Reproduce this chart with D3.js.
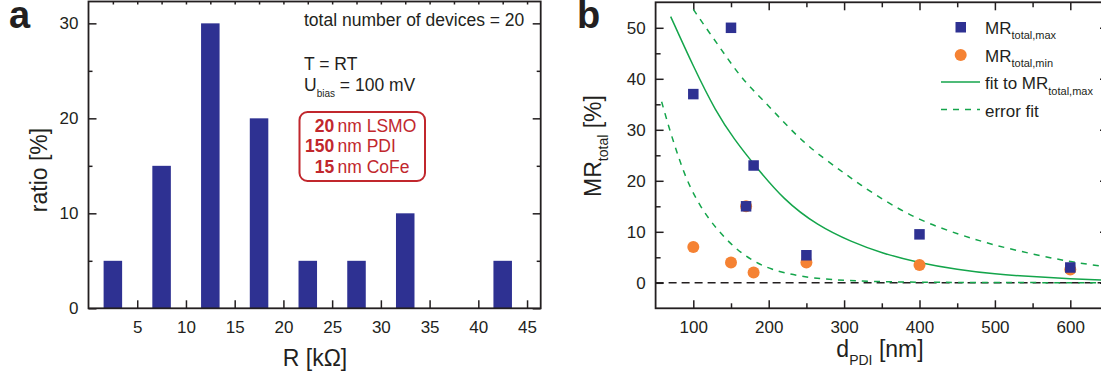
<!DOCTYPE html>
<html>
<head>
<meta charset="utf-8">
<script src="https://cdnjs.cloudflare.com/ajax/libs/d3/7.8.5/d3.min.js"></script>
<style>
  body { margin: 0; background: #fff; }
  text { font-family: "Liberation Sans", Arial, sans-serif; fill: #231f20; }
</style>
</head>
<body>
<script>
// panel a: histogram of device resistance
var barR = [2.5, 7.5, 12.5, 17.5, 22.5, 27.5, 32.5, 42.5];
var barRatio = [5, 15, 30, 20, 5, 5, 10, 5];
var xTicksA = [5, 10, 15, 20, 25, 30, 35, 40, 45];
var yTicksA = [0, 10, 20, 30];

// panel b: MR vs PDI thickness
var dPDI = [100, 150, 170, 180, 250, 400, 600];
var mrMax = [37, 50, 15, 23, 5.4, 9.5, 3.0];
var mrMin = [7, 4, 15, 2, 4, 3.5, 2.6];

// curves
var fitX = [70, 100, 130, 155, 180, 220, 265, 310, 350, 400, 450, 500, 550, 600, 650];
var fitY = [52.2, 42.4, 33.5, 28.0, 23.3, 16.2, 11.2, 8.0, 5.8, 3.9, 2.6, 1.7, 1.2, 0.8, 0.5];
var errHiX = [100, 122, 144, 166, 193, 219, 246, 273, 300, 322, 350, 400, 454, 498, 551, 600, 650];
var errHiY = [53.6, 48.9, 44.3, 39.7, 35.8, 31.6, 27.6, 24.4, 21.5, 19.2, 16.4, 12.2, 9.4, 7.4, 5.6, 4.1, 3.1];
var errLoX = [58, 69, 80, 91, 109, 131, 153, 175, 202, 242, 286, 334, 400, 500, 650];
var errLoY = [35.5, 29.8, 24.8, 20.2, 14.9, 10.5, 7.1, 4.6, 2.6, 1.2, 0.55, 0.25, 0.1, 0.04, 0.02];
var xTicksB = [100, 200, 300, 400, 500, 600];
var yTicksB = [0, 10, 20, 30, 40, 50];

var blue = "#2e3192",
	orange = "#f58233",
	green = "#14a54b",
	red = "#c1272d";

var svg = d3.select("body").append("svg")
	.attr("width", 1101)
	.attr("height", 377);

// ---------- panel a ----------
var xA = d3.scaleLinear().domain([0, 46.4]).range([88.5, 540.7]);
var yA = d3.scaleLinear().domain([0, 32.3]).range([308.3, 1.5]);

var gA = svg.append("g");

gA.selectAll(".bar")
	.data(barR)
	.enter()
	.append("rect")
		.attr("class", "bar")
		.attr("x", function(d){ return xA(d - 0.95); })
		.attr("width", function(d){ return xA(d + 0.95) - xA(d - 0.95); })
		.attr("y", function(d, i){ return yA(barRatio[i]); })
		.attr("height", function(d, i){ return yA(0) - yA(barRatio[i]); })
		.attr("fill", blue);

function styleAxis(g, size){
	g.select(".domain").remove();
	g.selectAll("line").attr("stroke", "#231f20").attr("stroke-width", 1.5);
	g.selectAll("text").style("font-size", size + "px").attr("fill", "#231f20");
}

gA.append("g")
	.attr("transform", "translate(0," + yA.range()[0] + ")")
	.call(d3.axisBottom(xA).tickValues(xTicksA).tickSize(-8).tickPadding(13).tickFormat(d3.format("d")))
	.call(styleAxis, 17);

gA.append("g")
	.attr("transform", "translate(0," + yA.range()[1] + ")")
	.call(d3.axisTop(xA).tickValues(d3.range(2.5, 46, 2.5)).tickSize(-3).tickFormat(""))
	.call(styleAxis, 17);

gA.append("g")
	.attr("transform", "translate(" + xA.range()[0] + ",0)")
	.call(d3.axisLeft(yA).tickValues(yTicksA).tickSize(-8).tickPadding(10))
	.call(styleAxis, 17);

gA.append("g")
	.attr("transform", "translate(" + xA.range()[0] + ",0)")
	.call(d3.axisLeft(yA).tickValues([5, 15, 25]).tickSize(-4).tickFormat(""))
	.call(styleAxis, 17);

gA.append("g")
	.attr("transform", "translate(" + xA.range()[1] + ",0)")
	.call(d3.axisRight(yA).tickValues(yTicksA).tickSize(-8).tickFormat(""))
	.call(styleAxis, 17);

gA.append("g")
	.attr("transform", "translate(" + xA.range()[1] + ",0)")
	.call(d3.axisRight(yA).tickValues([5, 15, 25]).tickSize(-4).tickFormat(""))
	.call(styleAxis, 17);

gA.append("rect")
	.attr("x", xA.range()[0])
	.attr("y", yA.range()[1])
	.attr("width", xA.range()[1] - xA.range()[0])
	.attr("height", yA.range()[0] - yA.range()[1])
	.attr("fill", "none")
	.attr("stroke", "#231f20")
	.attr("stroke-width", 1.8);

gA.append("text")
	.attr("x", 315)
	.attr("y", 366)
	.attr("text-anchor", "middle")
	.style("font-size", "23px")
	.text("R [kΩ]");

gA.append("text")
	.attr("transform", "translate(47,170) rotate(-90)")
	.attr("text-anchor", "middle")
	.style("font-size", "23px")
	.text("ratio [%]");

gA.append("text")
	.attr("x", 9)
	.attr("y", 28)
	.style("font-size", "38px")
	.style("font-weight", "bold")
	.text("a");

gA.append("text")
	.attr("x", 304)
	.attr("y", 26)
	.style("font-size", "17.5px")
	.text("total number of devices = 20");

gA.append("text")
	.attr("x", 304)
	.attr("y", 70)
	.style("font-size", "17.5px")
	.text("T = RT");

var ub = gA.append("text")
	.attr("x", 304)
	.attr("y", 90.5)
	.style("font-size", "17.5px");
ub.append("tspan").text("U");
ub.append("tspan").attr("dy", 6).style("font-size", "10px").text("bias");
ub.append("tspan").attr("dy", -6).text(" = 100 mV");

gA.append("rect")
	.attr("x", 299.5)
	.attr("y", 112)
	.attr("width", 125.5)
	.attr("height", 69)
	.attr("rx", 8)
	.attr("fill", "none")
	.attr("stroke", red)
	.attr("stroke-width", 2);

var layers = [["20", "nm LSMO", 131.7], ["150", "nm PDI", 152], ["15", "nm CoFe", 173.3]];
layers.forEach(function(l){
	gA.append("text")
		.attr("x", 334.3)
		.attr("y", l[2])
		.attr("text-anchor", "end")
		.style("font-size", "17.5px")
		.style("font-weight", "bold")
		.style("fill", red)
		.text(l[0]);
	gA.append("text")
		.attr("x", 337.5)
		.attr("y", l[2])
		.style("font-size", "17.5px")
		.style("fill", red)
		.text(l[1]);
});

// ---------- panel b ----------
var xB = d3.scaleLinear().domain([50, 650]).range([655.6, 1108]);
var yB = d3.scaleLinear().domain([-5, 55]).range([308.3, 2.3]);

var gB = svg.append("g");

gB.append("defs").append("clipPath")
	.attr("id", "clipB")
	.append("rect")
		.attr("x", xB.range()[0])
		.attr("y", yB.range()[1])
		.attr("width", xB.range()[1] - xB.range()[0])
		.attr("height", yB.range()[0] - yB.range()[1]);

gB.append("g")
	.attr("transform", "translate(0," + yB.range()[0] + ")")
	.call(d3.axisBottom(xB).tickValues(xTicksB).tickSize(-8).tickPadding(13))
	.call(styleAxis, 17);

gB.append("g")
	.attr("transform", "translate(0," + yB.range()[0] + ")")
	.call(d3.axisBottom(xB).tickValues([150, 250, 350, 450, 550]).tickSize(-5).tickFormat(""))
	.call(styleAxis, 17);

gB.append("g")
	.attr("transform", "translate(0," + yB.range()[1] + ")")
	.call(d3.axisTop(xB).tickValues(xTicksB).tickSize(-8).tickFormat(""))
	.call(styleAxis, 17);

gB.append("g")
	.attr("transform", "translate(0," + yB.range()[1] + ")")
	.call(d3.axisTop(xB).tickValues([150, 250, 350, 450, 550]).tickSize(-5).tickFormat(""))
	.call(styleAxis, 17);

gB.append("g")
	.attr("transform", "translate(" + xB.range()[0] + ",0)")
	.call(d3.axisLeft(yB).tickValues(yTicksB).tickSize(-8).tickPadding(10))
	.call(styleAxis, 17);

gB.append("g")
	.attr("transform", "translate(" + xB.range()[0] + ",0)")
	.call(d3.axisLeft(yB).tickValues([5, 15, 25, 35, 45]).tickSize(-5).tickFormat(""))
	.call(styleAxis, 17);

gB.append("g")
	.attr("transform", "translate(" + xB.range()[1] + ",0)")
	.call(d3.axisRight(yB).tickValues(yTicksB).tickSize(-8).tickFormat(""))
	.call(styleAxis, 17);

// zero line
gB.append("line")
	.attr("x1", xB.range()[0])
	.attr("x2", xB.range()[1])
	.attr("y1", yB(0))
	.attr("y2", yB(0))
	.attr("stroke", "#231f20")
	.attr("stroke-width", 1.6)
	.attr("stroke-dasharray", "8,5");

var line = d3.line()
	.x(function(d){ return xB(d[0]); })
	.y(function(d){ return yB(d[1]); })
	.curve(d3.curveBasis);

var curves = gB.append("g").attr("clip-path", "url(#clipB)");

curves.append("path")
	.datum(d3.zip(errLoX, errLoY))
	.attr("d", line)
	.attr("fill", "none")
	.attr("stroke", green)
	.attr("stroke-width", 1.5)
	.attr("stroke-dasharray", "6,6");

curves.append("path")
	.datum(d3.zip(errHiX, errHiY))
	.attr("d", line)
	.attr("fill", "none")
	.attr("stroke", green)
	.attr("stroke-width", 1.5)
	.attr("stroke-dasharray", "6,6");

curves.append("path")
	.datum(d3.zip(fitX, fitY))
	.attr("d", line)
	.attr("fill", "none")
	.attr("stroke", green)
	.attr("stroke-width", 1.5);

gB.selectAll(".minpt")
	.data(dPDI)
	.enter()
	.append("circle")
		.attr("class", "minpt")
		.attr("cx", function(d){ return xB(d); })
		.attr("cy", function(d, i){ return yB(mrMin[i]); })
		.attr("r", 6)
		.attr("fill", orange);

gB.selectAll(".maxpt")
	.data(dPDI)
	.enter()
	.append("rect")
		.attr("class", "maxpt")
		.attr("x", function(d){ return xB(d) - 5.25; })
		.attr("y", function(d, i){ return yB(mrMax[i]) - 5.25; })
		.attr("width", 10.5)
		.attr("height", 10.5)
		.attr("fill", blue);

gB.append("rect")
	.attr("x", xB.range()[0])
	.attr("y", yB.range()[1])
	.attr("width", xB.range()[1] - xB.range()[0])
	.attr("height", yB.range()[0] - yB.range()[1])
	.attr("fill", "none")
	.attr("stroke", "#231f20")
	.attr("stroke-width", 1.8);

// legend
var leg = gB.append("g");
leg.append("rect")
	.attr("x", 955.5).attr("y", 22).attr("width", 10.5).attr("height", 10.5)
	.attr("fill", blue);
leg.append("circle")
	.attr("cx", 960.7).attr("cy", 55).attr("r", 6)
	.attr("fill", orange);
leg.append("line")
	.attr("x1", 941).attr("x2", 980).attr("y1", 82).attr("y2", 82)
	.attr("stroke", green).attr("stroke-width", 1.5);
leg.append("line")
	.attr("x1", 941).attr("x2", 980).attr("y1", 109.5).attr("y2", 109.5)
	.attr("stroke", green).attr("stroke-width", 1.5).attr("stroke-dasharray", "6,6");

function subText(g, x, y, main, sub, size, subSize, shift, after){
	var t = g.append("text").attr("x", x).attr("y", y).style("font-size", size + "px");
	t.append("tspan").text(main);
	t.append("tspan").attr("dy", shift).style("font-size", subSize + "px").text(sub);
	if (after){
		t.append("tspan").attr("dy", -shift).text(after);
	}
	return t;
}

subText(leg, 985, 34, "MR", "total,max", 17, 11, 5);
subText(leg, 985, 61.5, "MR", "total,min", 17, 11, 5);
subText(leg, 985, 89, "fit to MR", "total,max", 17, 11, 6);
leg.append("text").attr("x", 985).attr("y", 116.5).style("font-size", "17px").text("error fit");

// axis titles
subText(gB, 880, 357, "d", "PDI", 23, 14, 8, " [nm]")
	.attr("text-anchor", "middle");

subText(gB, 0, 0, "MR", "total", 23, 14, 7, " [%]")
	.attr("transform", "translate(601,146) rotate(-90)")
	.attr("text-anchor", "middle");

gB.append("text")
	.attr("x", 577)
	.attr("y", 28)
	.style("font-size", "38px")
	.style("font-weight", "bold")
	.text("b");
</script>
</body>
</html>
